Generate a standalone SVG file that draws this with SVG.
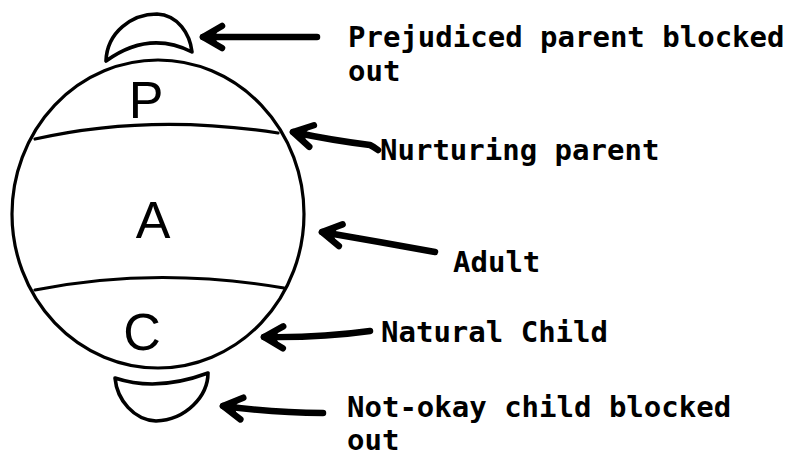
<svg xmlns="http://www.w3.org/2000/svg" width="794" height="458" viewBox="0 0 794 458">
<style>
.ink{fill:none;stroke:#000;stroke-width:3.2;stroke-linecap:round;stroke-linejoin:round}
.cap{fill:#fff;stroke:#000;stroke-width:3.6;stroke-linejoin:round}
.hand{font-family:"Liberation Sans","DejaVu Sans",sans-serif;font-size:52px;fill:#000;text-anchor:middle}
.lbl{font-family:"DejaVu Sans Mono","Liberation Mono",monospace;font-weight:bold;font-size:29px;fill:#000}
.arrow{fill:none;stroke:#000;stroke-width:6.5;stroke-linecap:round;stroke-linejoin:round;marker-start:url(#head)}
</style>
<defs>
<marker id="head" markerUnits="userSpaceOnUse" orient="auto-start-reverse" refX="0" refY="0" markerWidth="40" markerHeight="40" viewBox="-30 -20 40 40" overflow="visible">
<path d="M-19,-11 L0,0 L-19,11" fill="none" stroke="#000" stroke-width="6.5" stroke-linecap="round" stroke-linejoin="round"/>
<path d="M1,0 L-15,-7 L-12,0 L-15,7 Z" fill="#000"/>
</marker>
</defs>
<rect width="794" height="458" fill="#fff"/>

<g id="cap-top">
<path class="cap" d="M106,61 C107,32 132,14 157,14 C178,15 190,34 192,52 Q149,30 106,61 Z"/>
</g>
<g id="cap-bottom">
<path class="cap" d="M115,378 Q157,392 208,373 C208,396 186,420 156,421 C134,420 117,400 115,378 Z"/>
</g>

<g id="head-circle">
<ellipse class="ink" cx="158" cy="214" rx="146" ry="154"/>
</g>
<g id="node-P">
<path class="ink" d="M35,139 Q150,113 278,133"/>
<text class="hand" x="146" y="118">P</text>
</g>
<g id="node-A">
<text class="hand" x="153" y="238">A</text>
</g>
<g id="node-C">
<path class="ink" d="M35,290 Q155,266 284,288"/>
<text class="hand" x="142" y="350">C</text>
</g>

<g id="connectors">
<path class="arrow" d="M203,37 Q260,37 317,37"/>
<path class="arrow" d="M293,132 Q330,140 370,145 Q374,147 378,150"/>
<path class="arrow" d="M322,232 Q380,242 435,252"/>
<path class="arrow" d="M264,337 Q320,338 370,331"/>
<path class="arrow" d="M223,406 Q275,413 323,413"/>
</g>

<g id="label-prejudiced">
<text class="lbl" x="348" y="47">Prejudiced parent blocked</text>
<text class="lbl" x="348" y="81">out</text>
</g>
<g id="label-nurturing">
<text class="lbl" x="380" y="160">Nurturing parent</text>
</g>
<g id="label-adult">
<text class="lbl" x="453" y="272">Adult</text>
</g>
<g id="label-natural">
<text class="lbl" x="381" y="342">Natural Child</text>
</g>
<g id="label-notokay">
<text class="lbl" x="347" y="417">Not-okay child blocked</text>
<text class="lbl" x="347" y="450">out</text>
</g>
</svg>
